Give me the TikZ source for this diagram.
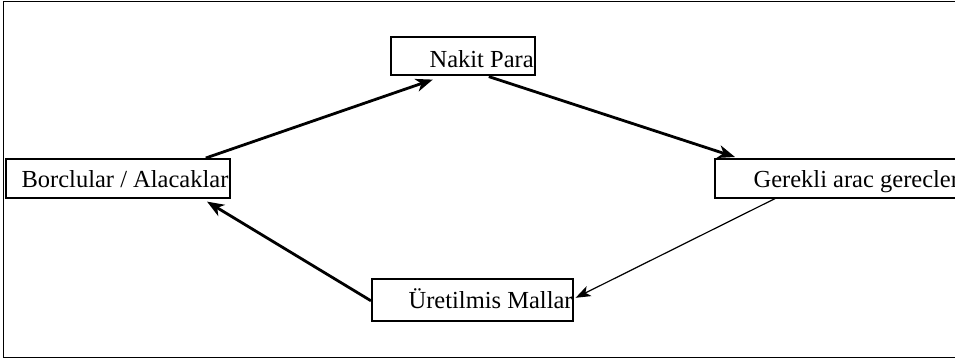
\documentclass[tikz,border=0pt]{standalone}
\usepackage{fontspec}
\setmainfont{Liberation Serif}
\usetikzlibrary{arrows.meta,calc}
\tikzset{
  boxnode/.style={draw, line width=1.6pt, inner sep=0pt, anchor=north west},
  flowthick/.style={line width=2.8pt, -{Stealth[length=17pt,width=13pt,inset=5pt]}},
  flowthin/.style={line width=1.2pt, -{Stealth[length=15pt,width=11pt,inset=4pt]}},
  lbl/.style={anchor=base west, inner sep=0pt, draw=none, minimum width=0pt, minimum height=0pt,
    font=\fontsize{24.5}{27}\selectfont}
}
\begin{document}
\begin{tikzpicture}[x=1pt,y=-1pt]
\useasboundingbox (0,0) rectangle (955,361);
% outer frame (open to the right)
\draw[line width=1pt] (960,1.5) -- (3,1.5) -- (3,357) -- (960,357);
% boxes
\node[boxnode, minimum width=144pt, minimum height=38pt,
  path picture={\node[lbl] at ($(path picture bounding box.south west)+(38pt,7pt)$) {Nakit Para};}] (nak) at (390,36) {};
\node[boxnode, minimum width=224pt, minimum height=39pt,
  path picture={\node[lbl] at ($(path picture bounding box.south west)+(15pt,10pt)$) {Borclular / Alacaklar};}] (bor) at (5,158) {};
\node[boxnode, minimum width=250pt, minimum height=39pt,
  path picture={\node[lbl] at ($(path picture bounding box.south west)+(38pt,10pt)$) {Gerekli arac gerecler};}] (ger) at (714,158) {};
\node[boxnode, minimum width=201pt, minimum height=42pt,
  path picture={\node[lbl] at ($(path picture bounding box.south west)+(36pt,12pt)$) {Üretilmis Mallar};}] (uret) at (371,278) {};
% connectors
\draw[flowthick] ([xshift=88pt]bor.north) -- ([xshift=-30pt,yshift=-4pt]nak.south);
\draw[flowthick] ([xshift=26pt,yshift=-1pt]nak.south) -- ([xshift=21pt,yshift=1pt]ger.north west);
\draw[flowthin] ([xshift=61pt]ger.south west) -- ([xshift=2pt,yshift=2pt]uret.east);
\draw[flowthick] ([yshift=-1pt]uret.west) -- ([xshift=202pt,yshift=-3pt]bor.south west);
\end{tikzpicture}
\end{document}
